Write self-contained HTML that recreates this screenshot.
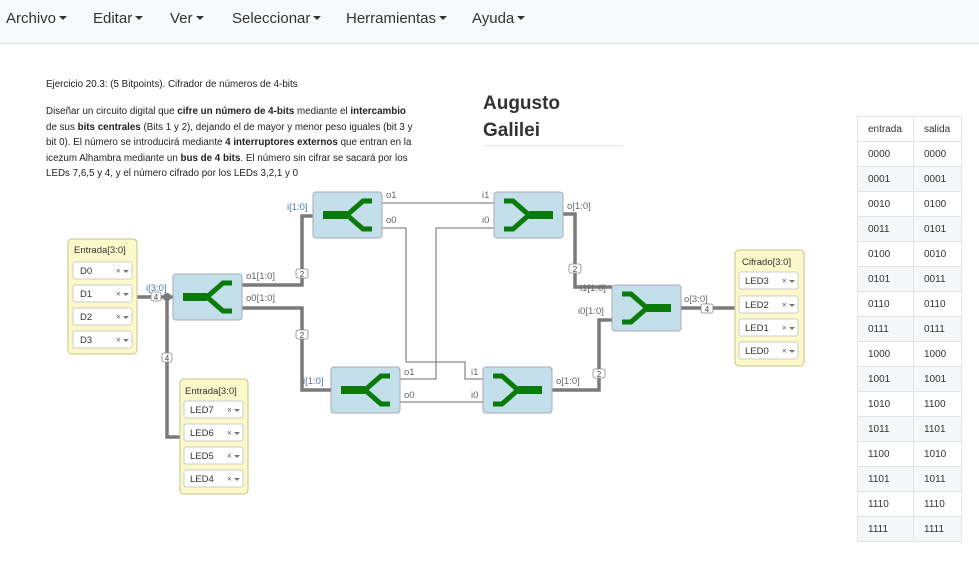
<!DOCTYPE html>
<html><head><meta charset="utf-8"><style>
body{margin:0;width:979px;height:561px;overflow:hidden;background:#fff;font-family:"Liberation Sans",sans-serif;position:relative}
.nav{position:absolute;left:0;top:0;width:979px;height:43px;background:#f8f9fa;border-bottom:1px solid #ddd}
.nav span{position:absolute;top:10px;font-size:15px;color:#333}
.nav span:after{content:"";display:inline-block;margin-left:3px;vertical-align:3px;border-left:4px solid transparent;border-right:4px solid transparent;border-top:4px solid #333}
.txt{position:absolute;left:46px;font-size:9.8px;color:#222;line-height:15.5px;white-space:nowrap}
.h{position:absolute;left:483px;top:90px;font-size:19px;font-weight:bold;color:#333;line-height:27px}
table{position:absolute;left:857px;top:116px;border-collapse:collapse;font-size:10px;color:#333}
td{border:1px solid #e3e3e3;height:24px;padding:0 0 0 10px}
td:first-child{width:45px}td:last-child{width:37px}
tr:nth-child(odd) td{background:#f6f7f8}tr:first-child td{background:#fff}
</style></head><body>
<div class="nav"><span style="left:6px">Archivo</span><span style="left:93px">Editar</span><span style="left:170px">Ver</span><span style="left:232px">Seleccionar</span><span style="left:346px">Herramientas</span><span style="left:472px">Ayuda</span></div>
<div class="txt" style="top:77px">Ejercicio 20.3: (5 Bitpoints). Cifrador de números de 4-bits</div>
<div class="txt" style="top:104px">Diseñar un circuito digital que <b>cifre un número de 4-bits</b> mediante el <b>intercambio</b><br>de sus <b>bits centrales</b> (Bits 1 y 2), dejando el de mayor y menor peso iguales (bit 3 y<br>bit 0). El número se introducirá mediante <b>4 interruptores externos</b> que entran en la<br>icezum Alhambra mediante un <b>bus de 4 bits</b>. El número sin cifrar se sacará por los<br>LEDs 7,6,5 y 4, y el número cifrado por los LEDs 3,2,1 y 0</div>
<div class="h">Augusto<br>Galilei</div>
<div style="position:absolute;left:483px;top:145px;width:140px;height:1px;background:#e5e5e5"></div>
<table>
<tr><td>entrada</td><td>salida</td></tr>
<tr><td>0000</td><td>0000</td></tr><tr><td>0001</td><td>0001</td></tr><tr><td>0010</td><td>0100</td></tr><tr><td>0011</td><td>0101</td></tr>
<tr><td>0100</td><td>0010</td></tr><tr><td>0101</td><td>0011</td></tr><tr><td>0110</td><td>0110</td></tr><tr><td>0111</td><td>0111</td></tr>
<tr><td>1000</td><td>1000</td></tr><tr><td>1001</td><td>1001</td></tr><tr><td>1010</td><td>1100</td></tr><tr><td>1011</td><td>1101</td></tr>
<tr><td>1100</td><td>1010</td></tr><tr><td>1101</td><td>1011</td></tr><tr><td>1110</td><td>1110</td></tr><tr><td>1111</td><td>1111</td></tr>
</table>
<svg style="position:absolute;left:0;top:0" width="979" height="561" font-family="Liberation Sans,sans-serif" font-size="9.5">
<defs>
<g id="spl"><rect x="0" y="0" width="69" height="46" rx="3" fill="#c2dfea" stroke="#aab"/><path d="M59 9H50L34 23L50 37H59" stroke="#0a7a0a" stroke-width="5" fill="none"/><path d="M10 23H34" stroke="#0a7a0a" stroke-width="8"/></g>
<g id="mrg"><rect x="0" y="0" width="69" height="46" rx="3" fill="#c2dfea" stroke="#aab"/><path d="M10 9H19L35 23L19 37H10" stroke="#0a7a0a" stroke-width="5" fill="none"/><path d="M35 23H59" stroke="#0a7a0a" stroke-width="8"/></g>
<g id="itm"><rect x="0" y="0" width="59" height="17" rx="2" fill="#fff" stroke="#ccc"/><text x="43" y="11.5" font-size="8" fill="#555">×</text><path d="M50 8h6l-3 3z" fill="#777"/></g>
</defs>
<g fill="none" stroke="#7a7a7a" stroke-width="3.5">
<path d="M137 297H173M167 297V437H180"/>
<path d="M242 285H302V216H313M242 308H302V390H331"/>
<path d="M563 214H575V287H612M552 390H599V320H612M680 308H735"/>
</g>
<g fill="none" stroke="#8a8a8a" stroke-width="1.3">
<path d="M382 203H494M382 228H406V362H465V379H483M400 379H436V228H494M400 402H483"/>
</g>
<circle cx="167" cy="297" r="4" fill="#7a7a7a"/>
<g fill="#fff" stroke="#888" stroke-width="0.8">
<rect x="151" y="292" width="10" height="9" rx="2"/><rect x="162" y="353" width="10" height="9" rx="2"/>
<rect x="296" y="269" width="12" height="9" rx="2"/><rect x="296" y="330" width="12" height="9" rx="2"/>
<rect x="569" y="264" width="12" height="9" rx="2"/><rect x="593" y="369" width="12" height="9" rx="2"/>
<rect x="701" y="304" width="12" height="9" rx="2"/>
</g>
<g font-size="8" fill="#444" text-anchor="middle"><text x="156" y="300">4</text><text x="167" y="361">4</text><text x="302" y="277">2</text><text x="302" y="338">2</text><text x="575" y="272">2</text><text x="599" y="377">2</text><text x="707" y="312">4</text></g>
<use href="#spl" x="173" y="274"/><use href="#spl" x="313" y="192"/><use href="#spl" x="331" y="367"/>
<use href="#mrg" x="494" y="192"/><use href="#mrg" x="483" y="367"/><use href="#mrg" x="612" y="285"/>
<g fill="#666">
<text x="146" y="291" fill="#4a7bb0">i[3:0]</text>
<text x="246" y="279">o1[1:0]</text><text x="246" y="301">o0[1:0]</text>
<text x="287" y="210" fill="#4a7bb0">i[1:0]</text><text x="386" y="198">o1</text><text x="386" y="223">o0</text>
<text x="303" y="384" fill="#4a7bb0">i[1:0]</text><text x="404" y="375">o1</text><text x="404" y="398">o0</text>
<text x="482" y="198">i1</text><text x="482" y="223">i0</text><text x="567" y="209">o[1:0]</text>
<text x="471" y="375">i1</text><text x="471" y="398">i0</text><text x="556" y="384">o[1:0]</text>
<text x="580" y="291">i1[1:0]</text><text x="578" y="314">i0[1:0]</text><text x="684" y="302">o[3:0]</text>
</g>
<g fill="#fbf8c9" stroke="#c9c28a"><rect x="68" y="239" width="69" height="115" rx="4"/><rect x="180" y="379" width="68" height="115" rx="4"/><rect x="735" y="250" width="69" height="116" rx="4"/></g>
<g fill="#333"><text x="74" y="253">Entrada[3:0]</text><text x="185" y="394">Entrada[3:0]</text><text x="742" y="265">Cifrado[3:0]</text></g>
<use href="#itm" x="73" y="262"/><use href="#itm" x="73" y="285"/><use href="#itm" x="73" y="308"/><use href="#itm" x="73" y="331"/>
<use href="#itm" x="184" y="401"/><use href="#itm" x="184" y="424"/><use href="#itm" x="184" y="447"/><use href="#itm" x="184" y="470"/>
<use href="#itm" x="739" y="272"/><use href="#itm" x="739" y="296"/><use href="#itm" x="739" y="319"/><use href="#itm" x="739" y="342"/>
<g fill="#333"><text x="80" y="274">D0</text><text x="80" y="297">D1</text><text x="80" y="320">D2</text><text x="80" y="343">D3</text>
<text x="190" y="413">LED7</text><text x="190" y="436">LED6</text><text x="190" y="459">LED5</text><text x="190" y="482">LED4</text>
<text x="745" y="284">LED3</text><text x="745" y="308">LED2</text><text x="745" y="331">LED1</text><text x="745" y="354">LED0</text></g>
</svg>
</body></html>
